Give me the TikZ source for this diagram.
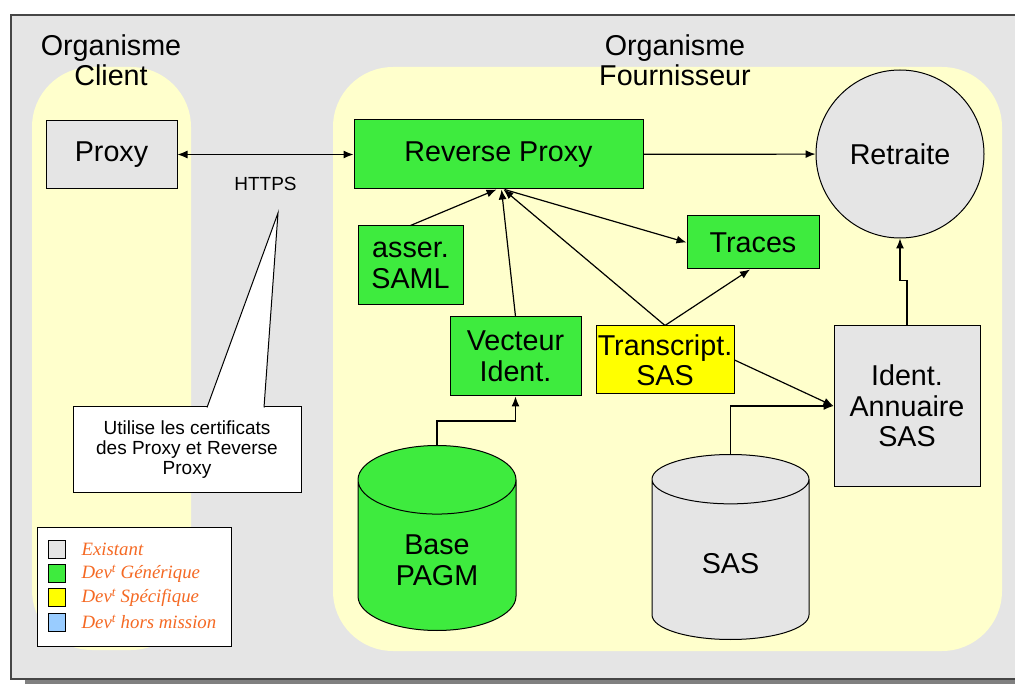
\documentclass[tikz,border=0pt]{standalone}
\usepackage{fontspec}
\setmainfont{Liberation Sans}
\newfontfamily\legendfont{Liberation Serif}
\usetikzlibrary{arrows, arrows.meta, positioning, shapes, fit, backgrounds}

\definecolor{fondgris}{RGB}{229,229,229}
\definecolor{jaunepale}{RGB}{255,255,204}
\definecolor{vert}{RGB}{62,235,62}
\definecolor{jaune}{RGB}{255,255,0}
\definecolor{bleuclair}{RGB}{153,204,255}
\definecolor{orangeleg}{RGB}{245,105,35}
\definecolor{cadre}{RGB}{70,70,70}
\definecolor{ombre}{RGB}{128,128,128}

\newcommand{\fontgrand}{\fontsize{28.7}{30.5}\selectfont}
\newcommand{\fontmoyen}{\fontsize{19}{20}\selectfont}

\begin{document}
\begin{tikzpicture}[x=1pt, y=-1pt,
    existant/.style={rectangle, draw, fill=fondgris, line width=1pt, align=center, inner sep=1pt, font=\fontgrand},
    generique/.style={existant, fill=vert},
    specifique/.style={existant, fill=jaune},
    base/.style={cylinder, shape border rotate=90, draw, line width=1pt, aspect=0.77, align=center, font=\fontgrand, anchor=north},
    zone/.style={fill=jaunepale, rounded corners=60pt},
    fleche/.style={->, >={Latex[length=10pt, width=8pt]}, line width=1.2pt},
    carre/.style={rectangle, draw, line width=0.8pt, minimum width=17pt, minimum height=18pt, inner sep=0pt},
    legende/.style={font=\legendfont\itshape\fontsize{18.8}{20}\selectfont, text=orangeleg, inner sep=0pt}
]
\useasboundingbox (0,0) rectangle (1015,684);
\clip (0,0) rectangle (1015,684);
% Fond et zones
\fill[ombre] (25,20) rectangle (1030,690);
\draw[cadre, fill=fondgris, line width=1.5pt] (11,15) rectangle (1030,679);
\fill[zone] (32,67) rectangle (191,650);
\fill[zone] (333,67) rectangle (1002,651);
\node[align=center, font=\fontgrand] (titreclient) at (111,60) {Organisme\\Client};
\node[align=center, font=\fontgrand] (titrefourn) at (675,60) {Organisme\\Fournisseur};
% Composants
\node[existant, minimum width=131pt, minimum height=68pt] (proxy) at (111.5,154.5) {Proxy};
\node[generique, minimum width=289pt, minimum height=69pt] (rproxy) at (498.5,154.5) {Reverse Proxy};
\node[existant, circle, minimum size=168pt] (retraite) at (900,154) {Retraite};
\node[generique, minimum width=132pt, minimum height=53pt] (traces) at (753,242.5) {Traces};
\node[generique, minimum width=105pt, minimum height=79pt] (saml) at (410.5,265.5) {asser.\\SAML};
\node[generique, minimum width=131pt, minimum height=79pt] (vecteur) at (515.5,356.5) {Vecteur\\Ident.};
\node[specifique, minimum width=138pt, minimum height=68pt] (transcript) at (665,360) {Transcript.\\SAS};
\node[existant, minimum width=146pt, minimum height=160pt] (ident) at (907,406) {Ident.\\Annuaire\\SAS};
\node[base, fill=vert, minimum width=158pt, minimum height=185pt] (basepagm) at (437,445) {Base\\PAGM};
\node[base, fill=fondgris, minimum width=157pt, minimum height=185pt] (sas) at (730.5,454) {SAS};
% Liens
\draw[fleche, <->] (proxy) -- (rproxy) node[midway, below=19pt, font=\fontmoyen] (https) {HTTPS};
\draw[fleche] (rproxy) -- (retraite);
\draw[fleche] (saml.north) -- ([xshift=-2pt]rproxy.south);
\draw[fleche] (vecteur.north) -- ([xshift=3pt]rproxy.south);
\draw[fleche] (transcript.north) -- ([xshift=5pt]rproxy.south);
\draw[fleche] ([xshift=6pt]rproxy.south) -- (traces.west);
\draw[fleche] (transcript.north) -- ([xshift=-3pt]traces.south);
\draw[fleche] (transcript.east) -- (ident.west);
\draw[fleche] (sas.north) |- (ident.west);
\draw[fleche] (basepagm.north) -- ++(0,-24) -| (vecteur.south);
\draw[fleche] (ident.north) -- ++(0,-45) -| (retraite.south);
% Bulle
\coordinate (pointe) at (278,213);
\node[draw, fill=white, line width=1pt, minimum width=228pt, minimum height=85pt, align=center, font=\fontmoyen] (bulle) at (187,449.5) {Utilise les certificats\\des Proxy et Reverse\\Proxy};
\draw[fill=white, line width=1pt] ([xshift=20pt, yshift=-1pt]bulle.north) -- (pointe) -- ([xshift=77pt, yshift=-1pt]bulle.north);
% Legende
\node[draw, fill=white, line width=1pt, minimum width=194pt, minimum height=119pt] (cadreleg) at (134,586.5) {};
\foreach \coul/\texte [count=\i] in {fondgris/Existant, vert/Dev\textsuperscript{t} Générique, jaune/Dev\textsuperscript{t} Spécifique, bleuclair/Dev\textsuperscript{t} hors mission} {
  \node[carre, fill=\coul] (carre\i) at (56.5,525.2+24.2*\i) {};
  \node[legende, right=16pt of carre\i] (leg\i) {\texte};
}
\end{tikzpicture}
\end{document}
